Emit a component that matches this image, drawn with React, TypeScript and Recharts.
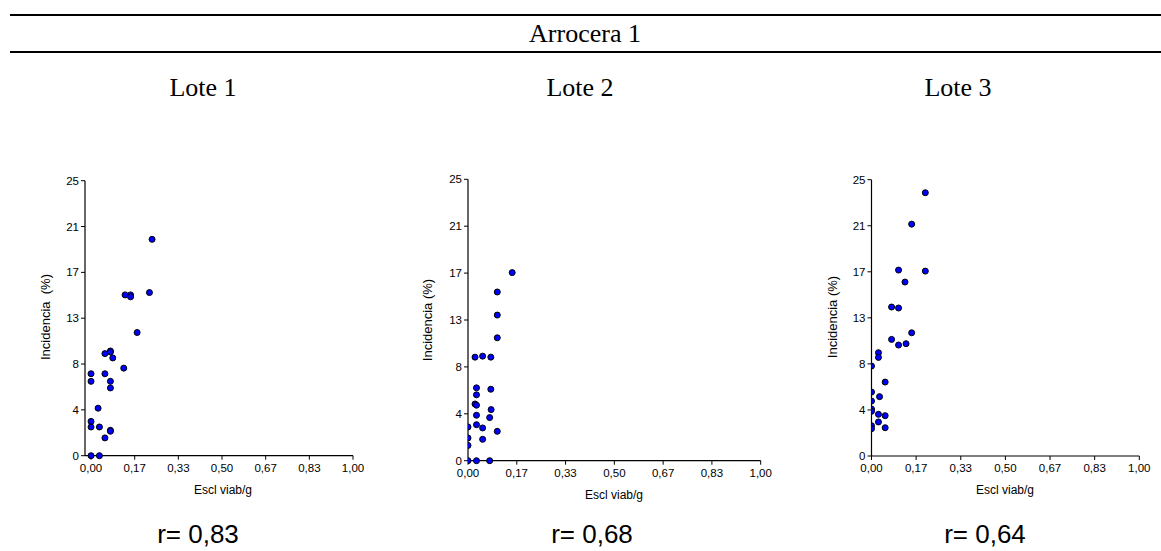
import React from 'react';
import { ScatterChart, Scatter, XAxis, YAxis } from 'recharts';

const W = 1161;
const H = 551;

// Lote 1 (x = Escl viab/g, y = Incidencia %)
const lote1X = [0.233, 0.223, 0.130, 0.151, 0.151, 0.176, 0.125, 0.074, 0.074, 0.053, 0.083, 0.0, 0.0, 0.053, 0.074, 0.074, 0.027, 0.0, 0.0, 0.032, 0.074, 0.074, 0.053, 0.0, 0.032];
const lote1Y = [19.67, 14.83, 14.62, 14.62, 14.44, 11.2, 7.96, 9.52, 9.43, 9.28, 8.89, 7.45, 6.76, 7.45, 6.76, 6.16, 4.32, 3.12, 2.61, 2.61, 2.31, 2.22, 1.62, 0, 0];

// Lote 2
const lote2X = [0.151, 0.100, 0.100, 0.100, 0.024, 0.050, 0.078, 0.029, 0.029, 0.078, 0.024, 0.029, 0.079, 0.029, 0.074, 0.029, 0.050, 0.0, 0.100, 0.0, 0.050, 0.0, 0.0, 0.029, 0.074];
const lote2Y = [16.71, 14.99, 12.94, 10.92, 9.2, 9.29, 9.2, 6.47, 5.85, 6.35, 5.04, 4.93, 4.54, 4.04, 3.83, 3.2, 2.91, 3.0, 2.61, 2.02, 1.9, 1.36, 0, 0, 0];

// Lote 3
const lote3X = [0.201, 0.150, 0.101, 0.201, 0.125, 0.075, 0.101, 0.150, 0.075, 0.129, 0.101, 0.026, 0.026, 0.0, 0.051, 0.0, 0.0, 0.030, 0.0, 0.0, 0.026, 0.051, 0.026, 0.0, 0.0, 0.051];
const lote3Y = [23.82, 20.98, 16.82, 16.73, 15.74, 13.48, 13.39, 11.15, 10.55, 10.16, 10.04, 9.35, 8.92, 8.14, 6.69, 5.79, 4.97, 5.37, 4.25, 4.04, 3.77, 3.65, 3.08, 2.74, 2.47, 2.56];

const xTicks = [0, 1 / 6, 2 / 6, 3 / 6, 4 / 6, 5 / 6, 1];
const yTicks = [0, 25 / 6, 50 / 6, 75 / 6, 100 / 6, 125 / 6, 25];

const panelTitles = ['Lote 1', 'Lote 2', 'Lote 3'];
const rLabels = ['r= 0,83', 'r= 0,68', 'r= 0,64'];
const yAxisTitles = ['Incidencia  (%)', 'Incidencia (%)', 'Incidencia (%)'];
const xAxisTitle = 'Escl viab/g';
const mainTitle = 'Arrocera 1';

const toData = (xs: number[], ys: number[]) => xs.map((x, i) => ({ x, y: ys[i] }));

const SANS = 'Liberation Sans, Arial, sans-serif';
const SERIF = 'Liberation Serif, Times New Roman, serif';

const Dot = (props: any) => (
  <circle cx={props.cx} cy={props.cy} r={3} fill="#0000ff" stroke="#000" strokeWidth={1} />
);

type PanelProps = {
  data: { x: number; y: number }[];
  left: number;
  right: number;
  top: number;
  bottom: number;
  xMin: number;
};

const YW = 40;

const Panel = ({ data, left, right, top, bottom, xMin }: PanelProps) => (
  <div style={{ position: 'absolute', left: 0, top: 0 }}>
    <ScatterChart
      width={W}
      height={H}
      margin={{ left: left - YW, right: W - right, top: top, bottom: H - bottom - 30 }}
    >
      <XAxis
        type="number"
        dataKey="x"
        domain={[xMin, 1]}
        ticks={xTicks}
        interval={0}
        allowDataOverflow
        tickFormatter={(v: number) => v.toFixed(2).replace('.', ',')}
        tick={{ fontSize: 11.5, fill: '#000', fontFamily: SANS }}
        tickSize={4}
        tickMargin={4}
        height={30}
        stroke="#000"
        axisLine={{ stroke: '#000', strokeWidth: 1.2 }}
        tickLine={{ stroke: '#000' }}
      />
      <YAxis
        type="number"
        dataKey="y"
        domain={[0, 25]}
        ticks={yTicks}
        interval={0}
        tickFormatter={(v: number) => String(Math.round(v))}
        tick={{ fontSize: 11.5, fill: '#000', fontFamily: SANS }}
        tickSize={4}
        tickMargin={2}
        width={YW}
        stroke="#000"
        axisLine={{ stroke: '#000', strokeWidth: 1.2 }}
        tickLine={{ stroke: '#000' }}
      />
      <Scatter data={data} isAnimationActive={false} shape={Dot} />
    </ScatterChart>
  </div>
);

const panels = [
  { data: toData(lote1X, lote1Y), left: 85, right: 353, top: 180.7, bottom: 455.7, xMin: -0.023, titleX: 203, rX: 198, xtX: 223, ylX: 45, ylY: 317, xtY: 494 },
  { data: toData(lote2X, lote2Y), left: 468, right: 760.7, top: 179.3, bottom: 460.7, xMin: 0, titleX: 580, rX: 592, xtX: 614, ylX: 427, ylY: 320, xtY: 499 },
  { data: toData(lote3X, lote3Y), left: 871.5, right: 1139.3, top: 179.7, bottom: 456, xMin: 0, titleX: 958, rX: 985, xtX: 1005, ylX: 832, ylY: 317, xtY: 494 },
];

export default function App() {
  return (
    <div style={{ position: 'absolute', left: 0, top: 0, width: W, height: H, background: '#fff', overflow: 'hidden' }}>
      {panels.map((p, i) => (
        <Panel key={i} data={p.data} left={p.left} right={p.right} top={p.top} bottom={p.bottom} xMin={p.xMin} />
      ))}
      <svg width={W} height={H} style={{ position: 'absolute', left: 0, top: 0, pointerEvents: 'none' }}>
        <line x1={10} x2={W} y1={15} y2={15} stroke="#000" strokeWidth={2} />
        <line x1={10} x2={W} y1={52} y2={52} stroke="#000" strokeWidth={2} />
        <text x={585} y={42} textAnchor="middle" fontFamily={SERIF} fontSize={26} fill="#000">{mainTitle}</text>
        {panels.map((p, i) => (
          <g key={i}>
            <text x={p.titleX} y={96} textAnchor="middle" fontFamily={SERIF} fontSize={26} fill="#000">{panelTitles[i]}</text>
            <text x={p.rX} y={543} textAnchor="middle" fontFamily={SANS} fontSize={26} fill="#000">{rLabels[i]}</text>
            <text x={p.xtX} y={p.xtY} textAnchor="middle" fontFamily={SANS} fontSize={12} fill="#000">{xAxisTitle}</text>
            <text
              x={p.ylX}
              y={p.ylY}
              textAnchor="middle"
              dominantBaseline="central"
              fontFamily={SANS}
              fontSize={13}
              fill="#000"
              style={{ whiteSpace: 'pre' }}
              transform={`rotate(-90 ${p.ylX} ${p.ylY})`}
            >
              {yAxisTitles[i]}
            </text>
          </g>
        ))}
      </svg>
    </div>
  );
}
